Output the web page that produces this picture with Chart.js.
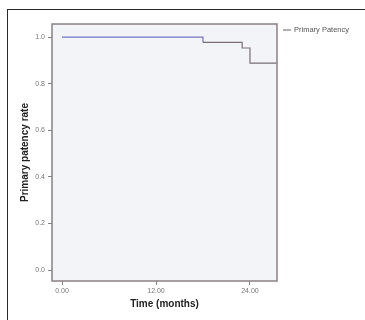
<!DOCTYPE html>
<html>
<head>
<meta charset="utf-8">
<script src="https://cdn.jsdelivr.net/npm/chart.js@4/dist/chart.umd.min.js"></script>
<style>
  html, body { margin: 0; padding: 0; background: #fff; }
  #wrap { position: relative; width: 365px; height: 320px; }
  #frame { position: absolute; left: 7px; top: 9px; right: -2px; bottom: -2px;
           border-left: 1.3px solid #2a2a2a; border-top: 1.3px solid #2a2a2a; }
  canvas { position: absolute; left: 0; top: 0; }
</style>
</head>
<body>
<div id="wrap">
  <canvas id="km" width="365" height="320"></canvas>
  <div id="frame"></div>
</div>
<script>
// Kaplan-Meier primary patency (months, survival)
const months = [0, 18, 23, 24, 27.4];
const patency = [1.0, 0.977, 0.953, 0.888, 0.888];
const xTicks = [0, 12, 24];
const yTicks = [0, 0.2, 0.4, 0.6, 0.8, 1.0];
const seriesName = 'Primary Patency';

const frameColor = '#8b8082';
const tickFont = { family: 'Liberation Sans, Arial', size: 7 };
const titleFont = { family: 'Liberation Sans, Arial', size: 10, weight: 'bold' };

const plotBox = {
    id: 'plotBox',
    beforeDatasetsDraw(chart) {
        const { ctx, chartArea: a } = chart;
        ctx.save();
        ctx.fillStyle = '#f3f4f8';
        ctx.fillRect(a.left, a.top, a.right - a.left, a.bottom - a.top);
        ctx.restore();
    },
    afterDatasetsDraw(chart) {
        const { ctx, chartArea: a } = chart;
        ctx.save();
        ctx.strokeStyle = frameColor;
        ctx.lineWidth = 1.5;
        ctx.strokeRect(a.left, a.top, a.right - a.left, a.bottom - a.top);
        // legend entry to the right of the plot
        const y = a.top + 6;
        ctx.strokeStyle = '#6a6070';
        ctx.lineWidth = 1;
        ctx.beginPath();
        ctx.moveTo(a.right + 6, y);
        ctx.lineTo(a.right + 14, y);
        ctx.stroke();
        ctx.fillStyle = '#555';
        ctx.font = '7.5px "Liberation Sans", Arial';
        ctx.textBaseline = 'middle';
        ctx.fillText(seriesName, a.right + 17, y);
        ctx.restore();
    }
};

new Chart(document.getElementById('km').getContext('2d'), {
    type: 'line',
    data: {
        datasets: [{
            label: seriesName,
            data: months.map((m, i) => ({ x: m, y: patency[i] })),
            stepped: true,
            borderWidth: 1.2,
            pointRadius: 0,
            fill: false,
            borderColor: '#7a6e74',
            segment: {
                borderColor: c => c.p0DataIndex === 0 ? '#7472c4' : '#7a6e74'
            }
        }]
    },
    options: {
        responsive: false,
        animation: false,
        layout: { padding: { left: 0, top: 24, right: 88, bottom: 0 } },
        plugins: { legend: { display: false }, tooltip: { enabled: false } },
        scales: {
            x: {
                type: 'linear',
                min: -1.28,
                max: 27.45,
                afterFit: s => { s.height = 39; },
                afterBuildTicks: s => { s.ticks = xTicks.map(v => ({ value: v })); },
                ticks: {
                    font: tickFont, color: '#777', padding: 2, maxRotation: 0,
                    callback: v => v.toFixed(2)
                },
                grid: { drawOnChartArea: false, drawTicks: true, tickLength: 4, color: frameColor },
                border: { display: false },
                title: { display: true, text: 'Time (months)', font: titleFont, color: '#222',
                         padding: { top: 0, bottom: 10 } }
            },
            y: {
                min: -0.047,
                max: 1.056,
                afterFit: s => { s.width = 52; },
                afterBuildTicks: s => { s.ticks = yTicks.map(v => ({ value: v })); },
                ticks: {
                    font: tickFont, color: '#777', padding: 3,
                    callback: v => v.toFixed(1)
                },
                grid: { drawOnChartArea: false, drawTicks: true, tickLength: 4, color: frameColor },
                border: { display: false },
                title: { display: true, text: 'Primary patency rate', font: titleFont, color: '#222',
                         padding: { top: 19, bottom: 0 } }
            }
        }
    },
    plugins: [plotBox]
});
</script>
</body>
</html>
